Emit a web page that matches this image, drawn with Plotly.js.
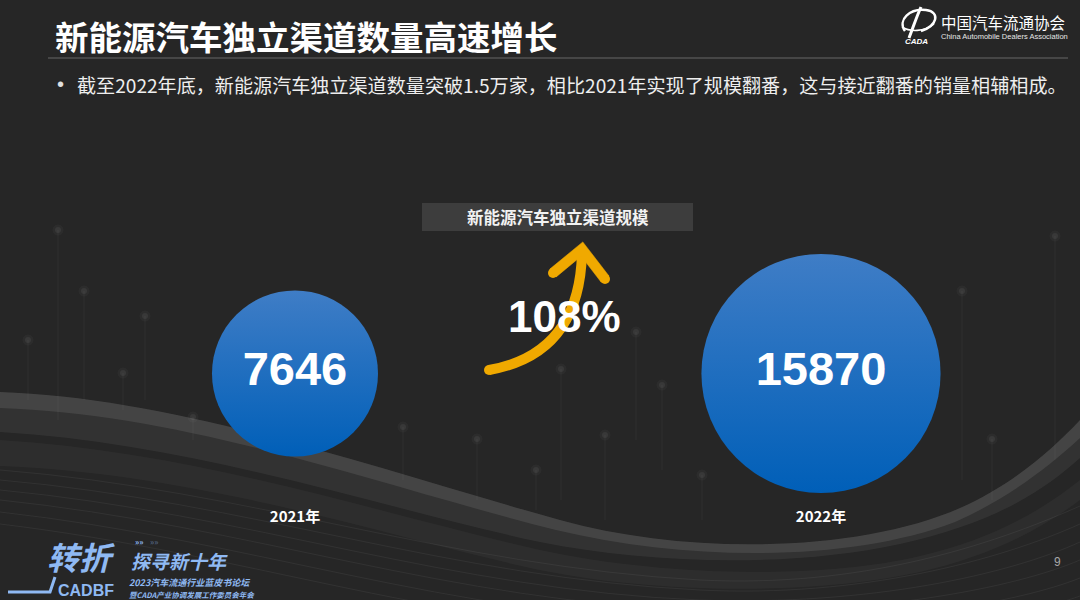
<!DOCTYPE html>
<html><head><meta charset="utf-8">
<script src="https://cdn.plot.ly/plotly-3.0.1.min.js"></script>
<style>html,body{margin:0;padding:0;background:#262626;} #chart{width:1080px;height:600px;}</style>
</head><body><div id="chart"></div>
<script>
// ---- data ----
const years = ['2021年', '2022年'];
const channelCounts = [7646, 15870];
const rowY = [0, 0];
const pageTitle = '新能源汽车独立渠道数量高速增长';
const subtitle = '截至2022年底，新能源汽车独立渠道数量突破1.5万家，相比2021年实现了规模翻番，这与接近翻番的销量相辅相成。';
const chartLabel = '新能源汽车独立渠道规模';
const growthText = Math.round((channelCounts[1] / channelCounts[0] - 1) * 100) + '%';

// ---- helpers (pixel -> paper) ----
const W = 1080, PB = 506;
const px = x => x / W;
const py = y => (PB - y) / PB;
function path(s) {
  let isX = true;
  return s.trim().split(/\s+/).map(t => {
    if (/^[A-Za-z]$/.test(t)) return t;
    const v = parseFloat(t);
    const r = isX ? px(v) : py(v);
    isX = !isX;
    return r.toFixed(5);
  }).join(' ');
}
const shapes = [];
function addPath(d, fill, line, lw, layer) {
  shapes.push({type: 'path', xref: 'paper', yref: 'paper', path: path(d),
    fillcolor: fill || 'rgba(0,0,0,0)', line: {color: line || 'rgba(0,0,0,0)', width: lw || 0}, layer: layer || 'below'});
}
function addCircle(cx, cy, r, fill, layer) {
  shapes.push({type: 'circle', xref: 'paper', yref: 'paper', x0: px(cx - r), x1: px(cx + r), y0: py(cy + r), y1: py(cy - r),
    fillcolor: fill, line: {width: 0}, layer: layer || 'below'});
}
function addRect(x0, y0, x1, y1, fill, layer) {
  shapes.push({type: 'rect', xref: 'paper', yref: 'paper', x0: px(x0), x1: px(x1), y0: py(y1), y1: py(y0),
    fillcolor: fill, line: {width: 0}, layer: layer || 'below'});
}
function addLine(x0, y0, x1, y1, color, w, layer) {
  shapes.push({type: 'line', xref: 'paper', yref: 'paper', x0: px(x0), x1: px(x1), y0: py(y0), y1: py(y1),
    line: {color: color, width: w}, layer: layer || 'below'});
}

// ---- background decoration ----
addPath('M 0 392 C 180 398 380 470 560 520 C 690 556 860 552 960 508 C 1010 486 1050 452 1080 420 L 1080 458 C 1040 494 990 524 900 544 C 790 568 650 564 540 542 C 380 508 200 444 0 432 Z', 'rgba(255,255,255,0.06)');
addPath('M 0 392 C 180 398 380 470 560 520 C 690 556 860 552 960 508 C 1010 486 1050 452 1080 420 L 1080 438 C 1045 470 1005 500 955 522 C 850 562 690 562 556 530 C 380 486 190 414 0 408 Z', 'rgba(255,255,255,0.09)');
addPath('M 0 440 C 200 452 380 514 540 550 C 660 576 820 580 920 556 C 990 540 1040 512 1080 480 L 1080 500 C 1040 530 990 556 920 572 C 810 596 650 594 530 568 C 380 534 200 474 0 466 Z', 'rgba(255,255,255,0.035)');
['M 0 470 C 250 490 450 566 700 580 C 860 588 990 546 1080 506',
 'M 0 480 C 250 502 450 578 700 590 C 860 598 1000 560 1080 524',
 'M 0 490 C 250 514 450 590 700 600 C 870 606 1010 574 1080 542',
 'M 0 500 C 250 526 450 602 700 610 C 870 616 1015 588 1080 560',
 'M 0 512 C 250 540 450 616 700 622 C 880 628 1020 602 1080 578',
 'M 0 524 C 250 554 450 630 700 634 C 880 640 1025 616 1080 596'
].forEach(d => addPath(d, null, 'rgba(255,255,255,0.055)', 1));

const lamps = [[58,230,420],[84,291,400],[145,316,400],[28,340,400],[123,373,410],[193,417,440],
  [403,427,480],[477,439,500],[536,470,510],[561,369,500],[636,332,440],[662,385,470],[605,435,520],
  [702,475,520],[992,439,500],[962,291,480],[1055,236,460]];
lamps.forEach(([x, t, b]) => {
  addLine(x, t, x, b, 'rgba(255,255,255,0.045)', 1);
  addCircle(x, t, 5.5, 'rgba(255,255,255,0.03)');
  addCircle(x, t, 3, 'rgba(255,255,255,0.06)');
});

// title underline
addLine(48, 58, 1068, 58, 'rgba(255,255,255,0.3)', 1);

// chart label box
addRect(422, 203, 693, 231, '#3d3d3d');

// growth arrow
const orange = '#f0a900';
addPath('M 489 370 Q 580 354 582 252', null, orange, 10);
addCircle(489, 370, 5, orange);
addPath('M 549.8 269.1 L 582.8 241.9 L 609 276 L 601 282 L 581.2 256.2 L 556.2 276.9 Z', orange, orange, 0.5);
addCircle(553, 273, 5, orange);
addCircle(605, 279, 5, orange);

// CADA emblem (top right)
addPath('M 905 31 C 897 20 910 8 926 10 C 941 12 937 26 921 31', null, '#ffffff', 2.4, 'above');
addPath('M 921 7 C 916 18 913 28 909 38', null, '#ffffff', 3, 'above');
addPath('M 902 27 C 910 32 924 32 934 24', null, '#ffffff', 1.6, 'above');

// bottom-left logo bar
const blue = '#8fb9f3';
addPath('M 8 592 L 50 592 L 55 577', null, blue, 3, 'above');

// ---- annotations ----
const cjk = 'Noto Sans CJK SC, Noto Sans, sans-serif';
const ann = [];
function addText(x, y, text, size, color, opts) {
  ann.push(Object.assign({xref: 'paper', yref: 'paper', x: px(x), y: py(y), text: text, showarrow: false,
    xanchor: 'left', yanchor: 'middle', font: {family: cjk, size: size, color: color}}, opts || {}));
}
addText(53, 35, '<b>' + pageTitle + '</b>', 33.5, '#ffffff');
addText(55, 84, '•', 20, '#e0e0e0', {font: {family: 'Liberation Sans, Arial', size: 20, color: '#e0e0e0'}});
addText(75, 85, subtitle, 19.1, '#eeeeee');
addText(557.5, 217, '<b>' + chartLabel + '</b>', 16.5, '#f2f2f2', {xanchor: 'center'});
addText(564, 317, '<b>' + growthText + '</b>', 44, '#ffffff', {xanchor: 'center', font: {family: 'Liberation Sans, Arial, sans-serif', size: 44, color: '#ffffff'}});
addText(1057, 562, '9', 12, '#a8a8a8', {xanchor: 'center', font: {family: 'Liberation Sans, Arial', size: 12, color: '#a8a8a8'}});
// top-right logo text
addText(939, 22, '中国汽车流通协会', 15.5, '#ffffff');
addText(939, 36, 'China Automobile Dealers Association', 7.5, '#e6e6e6', {font: {family: 'Liberation Sans, Arial', size: 7.5, color: '#e6e6e6'}});
addText(916, 42, '<b><i>CADA</i></b>', 8, '#ffffff', {xanchor: 'center', font: {family: 'Liberation Sans, Arial', size: 8, color: '#ffffff'}});
// bottom-left logo text
addText(45, 556, '<b><i>转折</i></b>', 32, blue);
addText(129, 560, '<b><i>探寻新十年</i></b>', 19, blue);
addText(133, 541, '<b>»»</b>', 8, blue);
addText(148, 541, '<b>»»</b>', 8, 'rgba(143,185,243,0.4)');
addText(56, 590, '<b>CADBF</b>', 16, blue, {font: {family: 'Liberation Sans, Arial', size: 16, color: blue}});
addText(127, 582, '<b><i>2023汽车流通行业蓝皮书论坛</i></b>', 9, blue);
addText(127, 594.5, '<b><i>暨CADA产业协调发展工作委员会年会</i></b>', 7.5, blue);

// ---- bubbles ----
const trace = {
  type: 'scatter', mode: 'markers+text', x: years, y: rowY,
  text: channelCounts.map(String), textposition: 'middle center',
  textfont: {family: 'Liberation Sans, Arial, sans-serif', size: 47, color: '#ffffff', weight: 'bold'},
  marker: {size: channelCounts, sizemode: 'area', sizeref: 0.555, color: '#3f7dc6',
    gradient: {type: 'vertical', color: '#005fb8'}, line: {width: 0}, opacity: 1},
  cliponaxis: false, hoverinfo: 'skip', showlegend: false
};

const layout = {
  width: 1080, height: 600,
  margin: {l: 0, r: 0, t: 0, b: 600 - PB, pad: 0},
  paper_bgcolor: '#262626', plot_bgcolor: 'rgba(0,0,0,0)',
  showlegend: false,
  xaxis: {type: 'category', range: [-0.5608, 1.4924], showgrid: false, zeroline: false, showline: false,
    ticks: '', tickfont: {family: cjk, size: 15, color: '#ffffff', weight: 'bold'}, fixedrange: true},
  yaxis: {visible: false, range: [-0.2619, 0.7381], fixedrange: true},
  shapes: shapes, annotations: ann
};
Plotly.newPlot('chart', [trace], layout, {displayModeBar: false, staticPlot: true});
</script></body></html>
